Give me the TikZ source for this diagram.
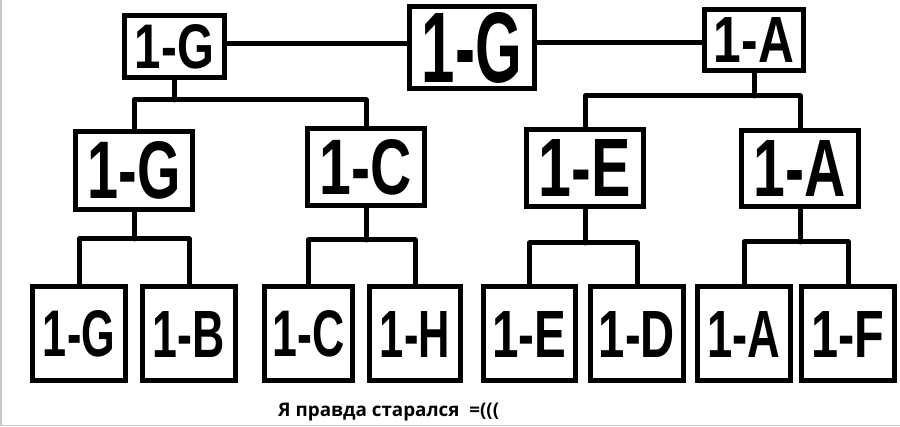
\documentclass[tikz,border=0pt]{standalone}
\usepackage{fontspec}
\setmainfont{Liberation Sans}
\newfontfamily\capfont{Open Sans}
\usepackage{graphicx}
\newcommand{\lbl}[3]{\resizebox{#1pt}{#2pt}{\bfseries #3}}
\begin{document}
\begin{tikzpicture}[x=1pt,y=-1pt,
  box/.style={draw=black,line width=5pt,fill=white,inner sep=0pt},
  conn/.style={draw=black,line width=5pt,line cap=round,line join=round}]
\useasboundingbox (0,0) rectangle (900,427);
\fill[white] (0,0) rectangle (900,427);
\draw[black!22,line width=1.5pt] (1,0) -- (1,425.5) -- (900,425.5);

% top row
\node[box,minimum width=100pt,minimum height=62pt] (tG) at (174.5,46.5) {\lbl{79}{44}{1-G}};
\node[box,minimum width=125pt,minimum height=82pt] (tC) at (472,47.5) {\lbl{100}{70}{1-G}};
\node[box,minimum width=99pt,minimum height=61pt] (tA) at (754,40) {\lbl{80}{45}{1-A}};

% middle row
\node[box,minimum width=117pt,minimum height=78pt] (mG) at (134,170.5) {\lbl{93}{57}{1-G}};
\node[box,minimum width=117pt,minimum height=77pt] (mC) at (366,167) {\lbl{92}{55}{1-C}};
\node[box,minimum width=117pt,minimum height=77pt] (mE) at (585,168) {\lbl{92}{57}{1-E}};
\node[box,minimum width=117pt,minimum height=76pt] (mA) at (800,168.5) {\lbl{92}{56}{1-A}};

% bottom row
\tikzset{bbox/.style={box,minimum height=94pt}}
\node[bbox,minimum width=93pt] (bG) at (79,334) {\lbl{72}{46}{1-G}};
\node[bbox,minimum width=93pt] (bB) at (189,334) {\lbl{72}{46}{1-B}};
\node[bbox,minimum width=88pt] (bC) at (308.5,334) {\lbl{72}{46}{1-C}};
\node[bbox,minimum width=91pt] (bH) at (415,334) {\lbl{70}{46}{1-H}};
\node[bbox,minimum width=92pt] (bE) at (529.5,334) {\lbl{74}{46}{1-E}};
\node[bbox,minimum width=93pt] (bD) at (637,334) {\lbl{76}{46}{1-D}};
\node[bbox,minimum width=93pt] (bA) at (744,334) {\lbl{73}{46}{1-A}};
\node[bbox,minimum width=93pt] (bF) at (848,334) {\lbl{73}{46}{1-F}};

% connectors (drawn behind boxes)
\begin{scope}[on background layer/.try]
\end{scope}
\draw[conn] (tG.east |- 0,44) -- (tC.west |- 0,44);
\draw[conn] (tC.east |- 0,43) -- (tA.west |- 0,43);

\draw[conn] (tG.south) -- (tG.south |- 0,100);
\draw[conn] (mG.north) |- (mC.north |- 0,100) -- (mC.north);
\draw[conn] (tA.south) -- (tA.south |- 0,96);
\draw[conn] (mE.north) |- (mA.north |- 0,96) -- (mA.north);

\draw[conn] (mG.south) -- (mG.south |- 0,239);
\draw[conn] (bG.north) |- (bB.north |- 0,239) -- (bB.north);
\draw[conn] (mC.south) -- (mC.south |- 0,240);
\draw[conn] (bC.north) |- (bH.north |- 0,240) -- (bH.north);
\draw[conn] (mE.south) -- (mE.south |- 0,243);
\draw[conn] (bE.north) |- (bD.north |- 0,243) -- (bD.north);
\draw[conn] (mA.south) -- (mA.south |- 0,242);
\draw[conn] (bA.north) |- (bF.north |- 0,242) -- (bF.north);

% caption
\node[anchor=base west,inner sep=0pt] (cap) at (278,417) {\resizebox{221pt}{!}{\capfont\bfseries Я правда старался\ \ =(((}};
\end{tikzpicture}
\end{document}
